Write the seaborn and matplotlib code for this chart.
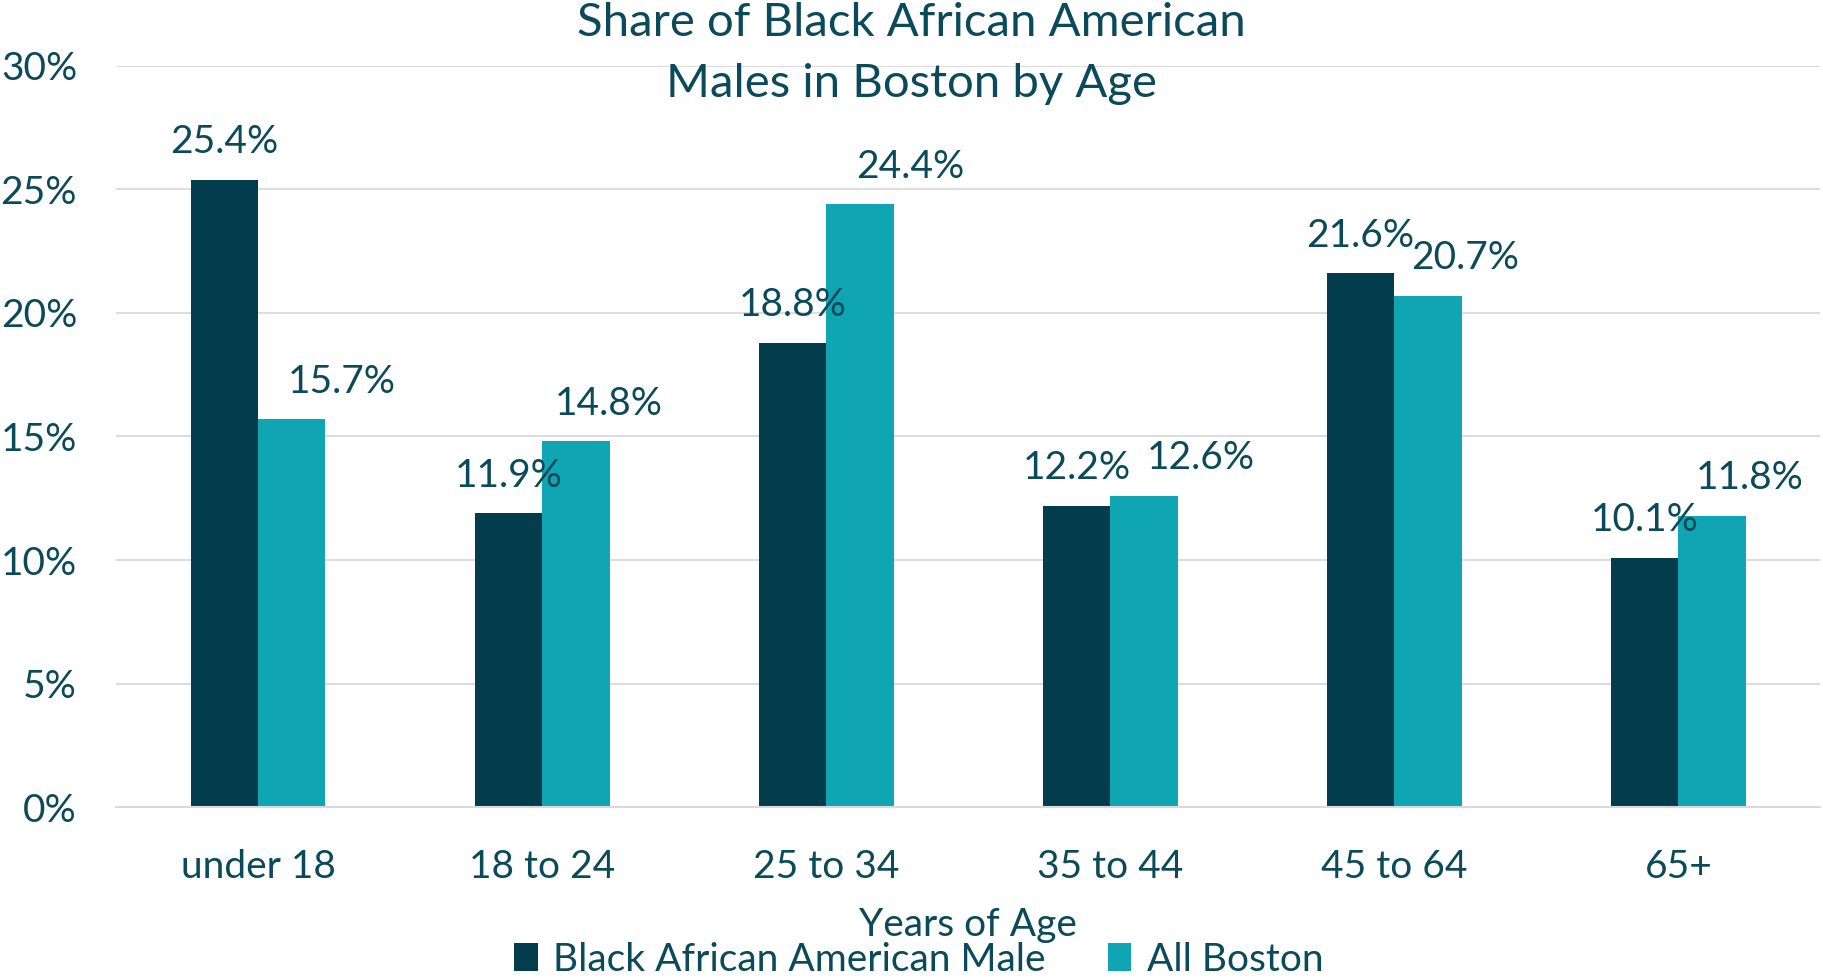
import pandas as pd
import matplotlib.pyplot as plt
import seaborn as sns
from matplotlib.ticker import PercentFormatter

sns.set_theme(style="white")
plt.rcParams['font.family'] = ['Lato', 'DejaVu Sans']

# data
age_groups = ["under 18", "18 to 24", "25 to 34", "35 to 44", "45 to 64", "65+"]
black_male = [25.4, 11.9, 18.8, 12.2, 21.6, 10.1]
all_boston = [15.7, 14.8, 24.4, 12.6, 20.7, 11.8]
series_names = ["Black African American Male", "All Boston"]

text_color = "#0B4A5A"
colors = ["#033C4C", "#10A5B2"]

df = pd.DataFrame({
    "Age": age_groups * 2,
    "Share": black_male + all_boston,
    "Group": [series_names[0]] * len(age_groups) + [series_names[1]] * len(age_groups),
})

fig = plt.figure(figsize=(18.24, 9.8), dpi=100)
ax = fig.add_axes([0.0636, 0.1765, 0.9344, 0.7562])

sns.barplot(data=df, x="Age", y="Share", hue="Group", palette=colors,
            width=0.475, saturation=1, linewidth=0, ax=ax)

ax.set_ylim(0, 30)
ax.set_xlim(-0.5, 5.5)
ax.set_yticks(range(0, 31, 5))
ax.yaxis.set_major_formatter(PercentFormatter(decimals=0))
ax.grid(axis="y", color="#DDDDDD", linewidth=1.5)
ax.set_axisbelow(True)
for s in ["left", "right", "top"]:
    ax.spines[s].set_visible(False)
ax.spines["bottom"].set_color("#D9D9D9")
ax.spines["bottom"].set_linewidth(1.5)
ax.tick_params(axis="y", length=0, pad=28, labelsize=28, labelcolor=text_color)
ax.tick_params(axis="x", length=0, pad=30, labelsize=28, labelcolor=text_color)

ax.set_xlabel("Years of Age", fontsize=28, color=text_color, va="center")
ax.xaxis.set_label_coords(0.5, -0.159)
ax.set_ylabel("")

# value labels above bars; the second series labels are nudged right
# (in points) the way the original spreadsheet placed them
label_shift = [[0] * 6, [36, 24, 36, 41, 27, 27]]
for container, shifts in zip(ax.containers, label_shift):
    for p, dx in zip(container, shifts):
        ax.annotate(f"{p.get_height():.1f}%",
                    (p.get_x() + p.get_width() / 2., p.get_height()),
                    xytext=(dx, 27), textcoords="offset points",
                    ha="center", va="center", fontsize=28, color=text_color)

fig.text(0.4995, 0.998, "Share of Black African American\nMales in Boston by Age",
         ha="center", va="top", fontsize=34, color=text_color, linespacing=1.57)

leg = ax.legend(loc="center", bbox_to_anchor=(0.471, -0.206), ncol=2,
                frameon=False, fontsize=28, handlelength=0.6, handleheight=0.7,
                handletextpad=0.4, columnspacing=1.6, borderaxespad=0)
for t in leg.get_texts():
    t.set_color(text_color)

fig.savefig("out.png", dpi=100)
